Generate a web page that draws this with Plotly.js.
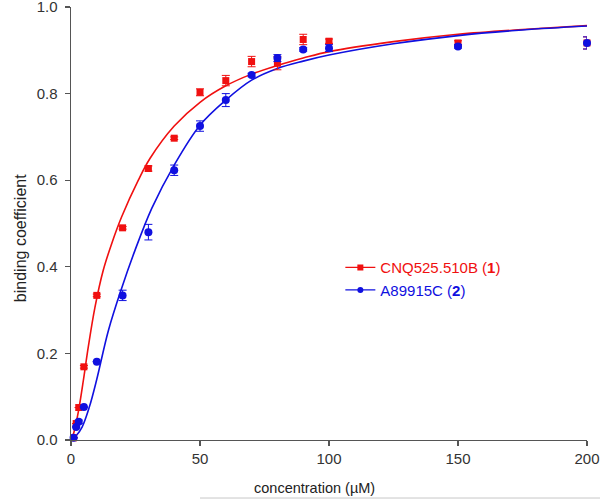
<!DOCTYPE html>
<html>
<head>
<meta charset="utf-8">
<script src="https://cdn.plot.ly/plotly-3.0.1.min.js"></script>
<style>html,body{margin:0;padding:0;background:#fff;}#chart{width:600px;height:499px;}</style>
</head>
<body>
<div id="chart"></div>
<script>
// measured data points
var redX = [1, 2, 3, 5, 10, 20, 30, 40, 50, 60, 70, 80, 90, 100, 150, 200];
var redY = [0.005, 0.038, 0.075, 0.169, 0.334, 0.490, 0.627, 0.697, 0.803, 0.830, 0.874, 0.870, 0.925, 0.921, 0.917, 0.917];
var redErr = [0, 0, 0, 0.003, 0.003, 0.003, 0.006, 0.003, 0.008, 0.012, 0.012, 0.015, 0.012, 0.005, 0.005, 0.014];

var blueX = [1, 2, 3, 5, 10, 20, 30, 40, 50, 60, 70, 80, 90, 100, 150, 200];
var blueY = [0.005, 0.030, 0.042, 0.076, 0.181, 0.334, 0.480, 0.623, 0.725, 0.785, 0.843, 0.882, 0.902, 0.905, 0.909, 0.917];
var blueErr = [0, 0, 0.004, 0, 0, 0.012, 0.018, 0.012, 0.012, 0.015, 0.004, 0.008, 0.004, 0.008, 0.004, 0.014];

// fitted curves
var redCurveX = [0, 1, 2, 3, 4.8, 6.7, 9.3, 12.5, 15.8, 19.6, 26.1, 30.6, 40, 50, 60, 70, 80, 90, 100, 125, 150, 175, 200];
var redCurveY = [0, 0.015, 0.040, 0.070, 0.138, 0.215, 0.307, 0.392, 0.454, 0.515, 0.600, 0.650, 0.725, 0.780, 0.818, 0.845, 0.865, 0.882, 0.897, 0.920, 0.937, 0.948, 0.957];
var blueCurveX = [0, 2, 4.3, 7.1, 9.9, 14.5, 19.6, 24.8, 31.3, 40, 50, 60, 70, 80, 90, 100, 125, 150, 175, 200];
var blueCurveY = [0, 0.010, 0.030, 0.076, 0.138, 0.253, 0.350, 0.438, 0.535, 0.635, 0.727, 0.785, 0.831, 0.858, 0.875, 0.889, 0.915, 0.934, 0.947, 0.956];

var redName = 'CNQ525.510B (<b>1</b>)';
var blueName = 'A89915C (<b>2</b>)';
var xTitle = 'concentration (µM)';
var yTitle = 'binding coefficient';
var xTicks = [0, 50, 100, 150, 200];
var yTicks = [0, 0.2, 0.4, 0.6, 0.8, 1.0];

var RED = '#f01010';
var BLUE = '#1010e0';
var AX = '#555555';

var traces = [
  {x: redCurveX, y: redCurveY, mode: 'lines', line: {color: RED, width: 1.6, shape: 'spline'}, showlegend: false, hoverinfo: 'skip'},
  {x: blueCurveX, y: blueCurveY, mode: 'lines', line: {color: BLUE, width: 1.6, shape: 'spline'}, showlegend: false, hoverinfo: 'skip'},
  {x: redX, y: redY, mode: 'markers', marker: {symbol: 'square', size: 7, color: RED},
   error_y: {type: 'data', array: redErr, visible: true, color: RED, thickness: 1, width: 4},
   showlegend: false, cliponaxis: false},
  {x: blueX, y: blueY, mode: 'markers', marker: {symbol: 'circle', size: 8, color: BLUE},
   error_y: {type: 'data', array: blueErr, visible: true, color: BLUE, thickness: 1, width: 4},
   showlegend: false, cliponaxis: false},
  {x: [null], y: [null], mode: 'lines+markers', name: '<span style="color:' + RED + '">' + redName + '</span>',
   line: {color: RED, width: 1.2}, marker: {symbol: 'square', size: 6, color: RED}},
  {x: [null], y: [null], mode: 'lines+markers', name: '<span style="color:' + BLUE + '">' + blueName + '</span>',
   line: {color: BLUE, width: 1.2}, marker: {symbol: 'circle', size: 6, color: BLUE}}
];

var layout = {
  width: 600, height: 499,
  margin: {l: 71, r: 13, t: 7, b: 59},
  paper_bgcolor: '#fff', plot_bgcolor: '#fff',
  font: {family: '"Liberation Sans", Arial, sans-serif', size: 15, color: '#333'},
  showlegend: true,
  legend: {x: 0.522, y: 0.436, xanchor: 'left', yanchor: 'top', bgcolor: 'rgba(0,0,0,0)', font: {size: 15}},
  xaxis: {
    range: [0, 200], tickvals: xTicks, ticktext: xTicks.map(String),
    showgrid: false, zeroline: false, showline: true, linecolor: AX, linewidth: 1.2,
    ticks: 'outside', ticklen: 5, tickcolor: AX, tickwidth: 1.2,
    tickfont: {size: 15, color: '#333'}, ticklabeloverflow: 'allow'
  },
  yaxis: {
    range: [0, 1], tickvals: yTicks, ticktext: yTicks.map(function(v){return v.toFixed(1) + '\u00a0';}),
    showgrid: false, zeroline: false, showline: true, linecolor: AX, linewidth: 1.2,
    ticks: 'outside', ticklen: 5, tickcolor: AX, tickwidth: 1.2,
    tickfont: {size: 15, color: '#333'}, ticklabeloverflow: 'allow'
  },
  annotations: [
    {text: xTitle, xref: 'paper', yref: 'paper', x: 0.472, y: -0.111, xanchor: 'center', yanchor: 'middle',
     showarrow: false, font: {size: 14.5, color: '#222'}},
    {text: yTitle, xref: 'paper', yref: 'paper', x: -0.099, y: 0.466, xanchor: 'center', yanchor: 'middle',
     textangle: -90, showarrow: false, font: {size: 16, color: '#222'}}
  ],
  shapes: [
    {type: 'line', xref: 'paper', yref: 'paper', x0: 0.25, x1: 1.03, y0: -0.134, y1: -0.134, line: {color: '#c8c8c8', width: 1}}
  ]
};

Plotly.newPlot('chart', traces, layout, {displayModeBar: false, staticPlot: true});
</script>
</body>
</html>
